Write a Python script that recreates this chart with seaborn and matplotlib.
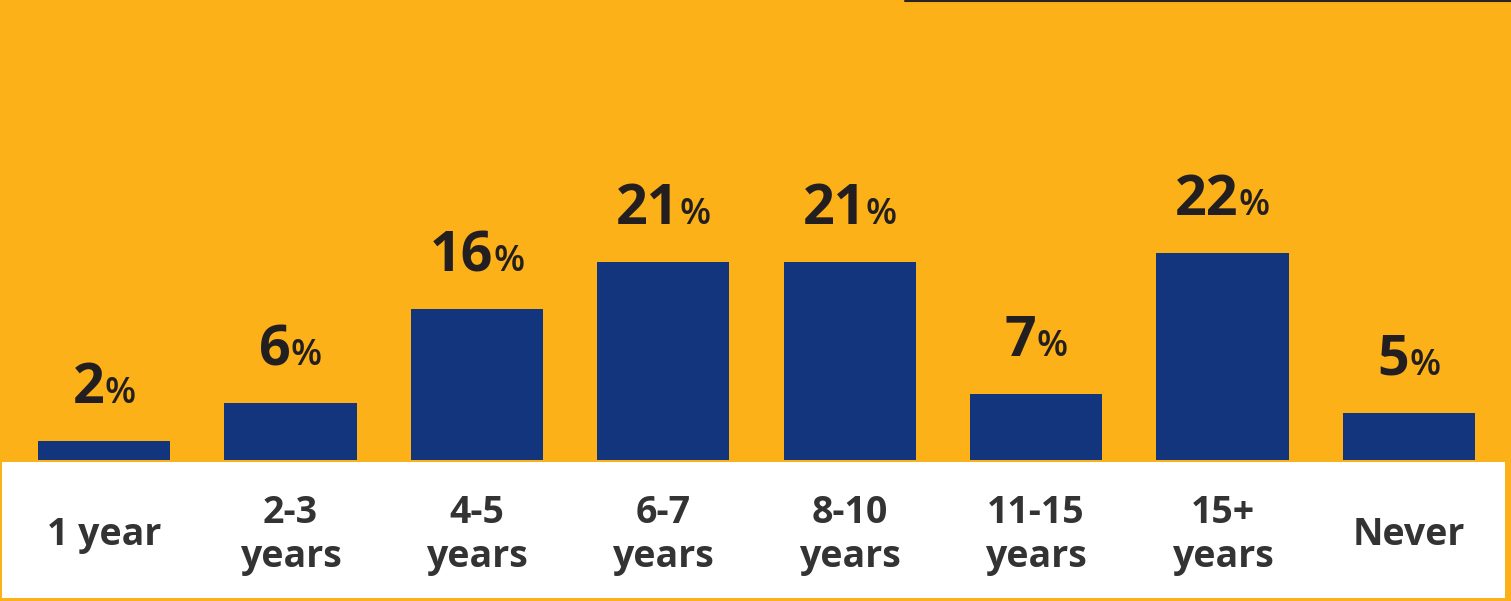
import matplotlib
matplotlib.use("Agg")
import matplotlib.pyplot as plt
import seaborn as sns
import pandas as pd
from matplotlib.patches import Rectangle
from matplotlib.lines import Line2D
from matplotlib.offsetbox import TextArea, HPacker, AnnotationBbox

# Survey answers: how long before ... (share of respondents, %)
categories = ["1 year", "2-3\nyears", "4-5\nyears", "6-7\nyears",
              "8-10\nyears", "11-15\nyears", "15+\nyears", "Never"]
shares = [2, 6, 16, 21, 21, 7, 22, 5]

ORANGE = "#FCB118"
NAVY = "#12357E"
NUM_COLOR = "#231F20"
TICK_COLOR = "#333333"

sns.set_theme(style="white")
plt.rcParams["font.family"] = ["Open Sans", "DejaVu Sans"]

W, H = 1511, 601
fig = plt.figure(figsize=(W / 100, H / 100), dpi=100)
fig.patch.set_facecolor(ORANGE)

# plotting area sits on the orange panel, baseline just above the white strip
ax = fig.add_axes([11 / W, 141 / H, 1491 / W, 460 / H])
ax.set_facecolor(ORANGE)

df = pd.DataFrame({"category": categories, "share": shares})
sns.barplot(data=df, x="category", y="share", color=NAVY, saturation=1,
            width=0.71, linewidth=0, edgecolor=NAVY, ax=ax, zorder=2)

ax.set_xlim(-0.5, len(categories) - 0.5)
ax.set_ylim(0, 48.8)
ax.set_xlabel("")
ax.set_ylabel("")
ax.set_yticks([])
for s in ax.spines.values():
    s.set_visible(False)

ax.tick_params(axis="x", length=0, pad=54, labelsize=27, colors=TICK_COLOR)
for t in ax.get_xticklabels():
    t.set_fontweight("bold")
    t.set_verticalalignment("center")
    t.set_multialignment("center")
    t.set_linespacing(1.2)

# value labels: large number followed by a smaller percent sign
for i, v in enumerate(shares):
    num = TextArea(str(v), textprops=dict(fontsize=40, fontweight="bold",
                                          color=NUM_COLOR))
    pct = TextArea("%", textprops=dict(fontsize=26, fontweight="semibold",
                                       color=NUM_COLOR))
    box = HPacker(children=[num, pct], align="baseline", pad=0, sep=0)
    ab = AnnotationBbox(box, (i, v), xybox=(0, 18), xycoords="data",
                        boxcoords="offset points", box_alignment=(0.5, 0),
                        frameon=False, annotation_clip=False)
    ax.add_artist(ab)

# white strip holding the category labels
fig.add_artist(Rectangle((2 / W, 3 / H), 1503 / W, 136 / H,
                         transform=fig.transFigure, facecolor="white",
                         edgecolor="none", zorder=-1))
# thin dark rule along the top right edge
fig.add_artist(Line2D([905 / W, 1.0], [1 - 1 / H, 1 - 1 / H],
                      transform=fig.transFigure, color="#2a2520", lw=1.5))

fig.savefig("out.png", dpi=100, facecolor=fig.get_facecolor())
